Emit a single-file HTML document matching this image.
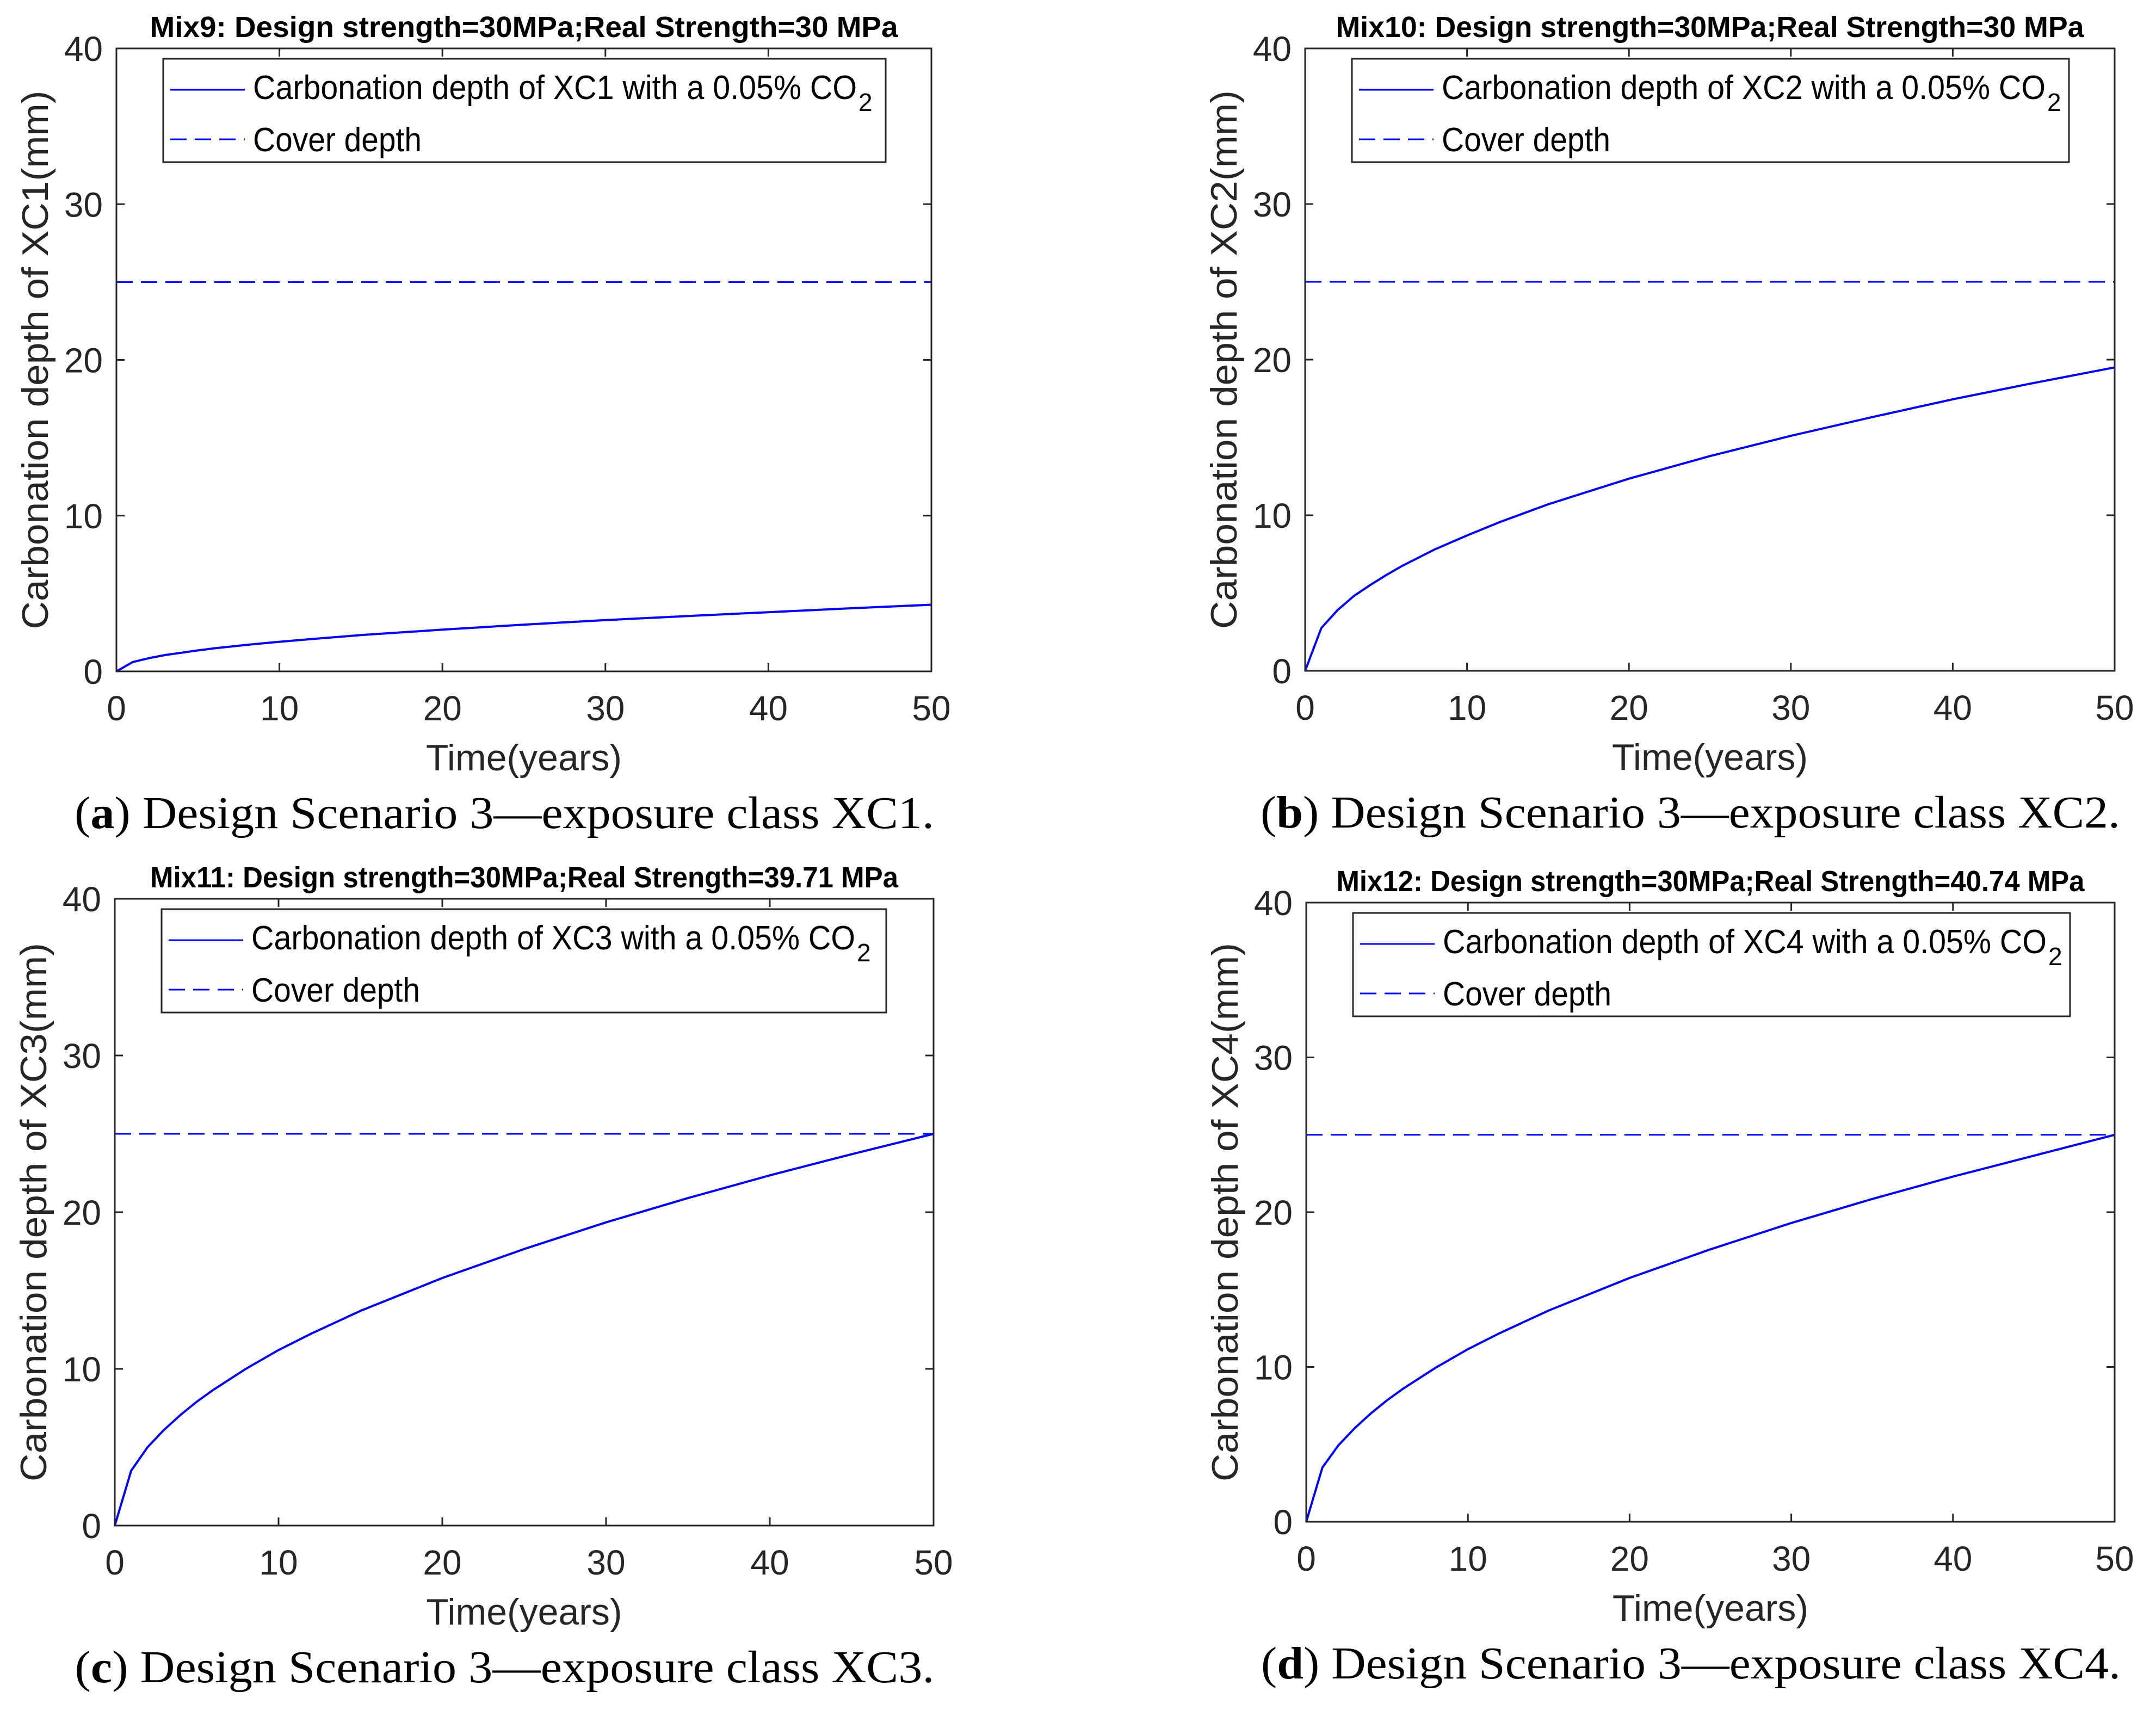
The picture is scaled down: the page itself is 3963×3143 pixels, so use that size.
<!DOCTYPE html>
<html><head><meta charset="utf-8"><style>
html,body{margin:0;padding:0;background:#fff;}
svg{display:block;}
</style></head><body>
<svg id="fig" width="3963" height="3143" viewBox="0 0 3963 3143" xmlns="http://www.w3.org/2000/svg"></svg>
<script>
const years = [0,1,2,3,4,5,6,8,10,12,15,20,25,30,35,40,45,50];
const depthXC1 = [0,0.6,0.85,1.05,1.2,1.35,1.48,1.7,1.9,2.08,2.33,2.68,3.0,3.29,3.55,3.8,4.05,4.28];
const depthXC2 = [0,2.75,3.9,4.8,5.5,6.15,6.75,7.8,8.7,9.55,10.7,12.35,13.8,15.1,16.3,17.45,18.5,19.5];
const depthXC3 = [0,3.5,5.0,6.1,7.05,7.9,8.65,10.0,11.2,12.25,13.7,15.8,17.65,19.35,20.9,22.35,23.7,25.0];
const depthXC4 = [0,3.5,4.95,6.05,7.0,7.85,8.6,9.95,11.15,12.2,13.65,15.75,17.6,19.3,20.85,22.3,23.65,25.0];
const coverDepth = [25,25,25,25];
const xTicks = [0,10,20,30,40,50];
const yTicks = [0,10,20,30,40];
const titles = ["Mix9: Design strength=30MPa;Real Strength=30 MPa","Mix10: Design strength=30MPa;Real Strength=30 MPa","Mix11: Design strength=30MPa;Real Strength=39.71 MPa","Mix12: Design strength=30MPa;Real Strength=40.74 MPa"];
const classes = ["XC1","XC2","XC3","XC4"];
const letters = ["a","b","c","d"];

const NS="http://www.w3.org/2000/svg";
const svg=document.getElementById('fig');
function mk(tag,attrs,parent){const e=document.createElementNS(NS,tag);for(const k in attrs)e.setAttribute(k,attrs[k]);(parent||svg).appendChild(e);return e;}

const boxes=[{L:214,R:1712,T:89,B:1234,lw:1328},{L:2399,R:3887,T:89,B:1233,lw:1318},{L:211,R:1716,T:1652,B:2804,lw:1332},{L:2401,R:3887,T:1659,B:2797,lw:1318}];
const series=[depthXC1,depthXC2,depthXC3,depthXC4];
const INK="#262626";

boxes.forEach((b,i)=>{
  const g=mk('g',{});
  
  
  const xs=v=>b.L+(v-0)/(50-0)*(b.R-b.L);
  const ys=v=>b.B-(v-0)/(40-0)*(b.B-b.T);
  const t=mk('text',{x:(b.L+b.R)/2,y:b.T-21,'text-anchor':'middle','font-family':'Liberation Sans, sans-serif','font-weight':'bold','font-size':54,fill:'#000',textLength:1375,lengthAdjust:'spacingAndGlyphs'},g);
  t.textContent=titles[i];
  
  
  xTicks.forEach(v=>{
    const x=xs(v);
    const l1=mk('line',{x1:x,x2:x,y1:b.B,y2:b.B-15,stroke:INK,'stroke-width':3},g);
    
    
    mk('line',{x1:x,x2:x,y1:b.T,y2:b.T+15,stroke:INK,'stroke-width':3},g);
    const tl=mk('text',{x:x,y:b.B+90,'text-anchor':'middle','font-family':'Liberation Sans, sans-serif','font-size':64,fill:INK},g);
    tl.textContent=v;
    
    
  });
  yTicks.forEach(v=>{
    const y=ys(v);
    const l1=mk('line',{x1:b.L,x2:b.L+15,y1:y,y2:y,stroke:INK,'stroke-width':3},g);
    
    
    mk('line',{x1:b.R,x2:b.R-15,y1:y,y2:y,stroke:INK,'stroke-width':3},g);
    const tl=mk('text',{x:b.L-25,y:y+23,'text-anchor':'end','font-family':'Liberation Sans, sans-serif','font-size':64,fill:INK},g);
    tl.textContent=v;
    
    
  });
  const cd=mk('line',{x1:xs(0),x2:xs(50),y1:ys(coverDepth[i]),y2:ys(coverDepth[i]),stroke:'#0000ff','stroke-width':3,'stroke-dasharray':'30 15'},g);
  
  
  const pts=years.map((yr,k)=>xs(yr).toFixed(1)+','+ys(series[i][k]).toFixed(1)).join(' ');
  const pl=mk('polyline',{points:pts,fill:'none',stroke:'#0000ff','stroke-width':4,'stroke-linejoin':'round'},g);
  
  
  const ax=mk('rect',{x:b.L,y:b.T,width:b.R-b.L,height:b.B-b.T,fill:'none',stroke:INK,'stroke-width':3},g);
  
  
  const lg=mk('g',{},g);
  
  
  const lx=b.L+86, ly=b.T+19;
  mk('rect',{x:lx,y:ly,width:b.lw,height:190,fill:'#fff',stroke:INK,'stroke-width':3},lg);
  const e1=mk('line',{x1:lx+13,x2:lx+150,y1:ly+57,y2:ly+57,stroke:'#0000ff','stroke-width':3},lg);
  
  
  const lt1=mk('text',{x:lx+165,y:ly+74,'font-family':'Liberation Sans, sans-serif','font-size':62,fill:'#000'},lg);
  lt1.innerHTML='<tspan textLength="1110" lengthAdjust="spacingAndGlyphs">Carbonation depth of '+classes[i]+' with a 0.05% CO</tspan><tspan dx="3" dy="22" font-size="46">2</tspan>';
  
  
  const e2=mk('line',{x1:lx+13,x2:lx+150,y1:ly+148,y2:ly+148,stroke:'#0000ff','stroke-width':3,'stroke-dasharray':'30 15'},lg);
  
  
  const lt2=mk('text',{x:lx+165,y:ly+170,'font-family':'Liberation Sans, sans-serif','font-size':62,fill:'#000',textLength:310,lengthAdjust:'spacingAndGlyphs'},lg);
  lt2.textContent='Cover depth';
  
  
  const xl=mk('text',{x:(b.L+b.R)/2,y:b.B+182,'text-anchor':'middle','font-family':'Liberation Sans, sans-serif','font-size':68,fill:INK},g);
  xl.textContent='Time(years)';
  
  
  const cy=(b.T+b.B)/2, cx=b.L-126;
  const yl=mk('text',{x:cx,y:cy,'text-anchor':'middle','font-family':'Liberation Sans, sans-serif','font-size':68,fill:INK,transform:'rotate(-90 '+cx+' '+cy+')',textLength:990,lengthAdjust:'spacingAndGlyphs'},g);
  yl.textContent='Carbonation depth of '+classes[i]+'(mm)';
  
  
  const cap=mk('text',{x:(b.L+b.R)/2-36,y:b.B+288,'text-anchor':'middle','font-family':'Liberation Serif, serif','font-size':84,fill:'#000',textLength:1580,lengthAdjust:'spacingAndGlyphs'},g);
  cap.innerHTML='(<tspan font-weight="bold">'+letters[i]+'</tspan>) Design Scenario 3\u2014exposure class '+classes[i]+'.';
  
  
});
</script>
</body></html>
